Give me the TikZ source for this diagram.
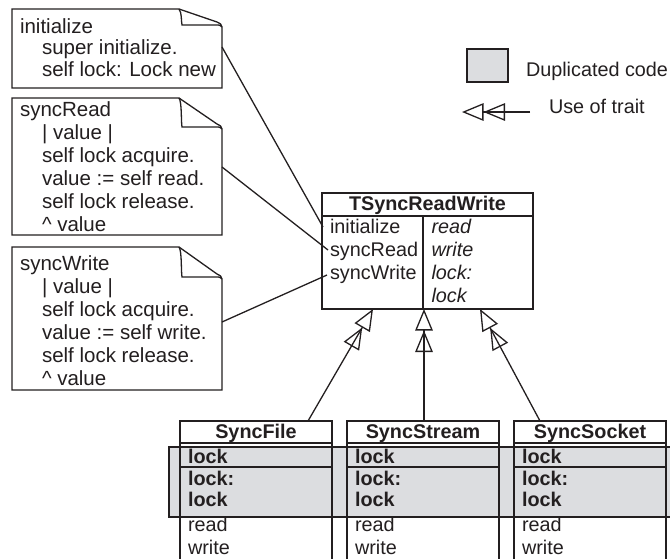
\documentclass[tikz,border=0pt]{standalone}
\usepackage{fontspec}
\setmainfont{Liberation Sans}
\usetikzlibrary{arrows.meta}
\definecolor{dupgray}{RGB}{220,221,224}
\definecolor{ink}{RGB}{35,31,32}
\newcommand\mynote[5]{%
  \draw[fill=white] (#1,#2) -- ({#3-43},#2) -- ({#3-5},{#2+#5-4})
     .. controls ({#3-1},{#2+#5-2}) .. (#3,{#2+#5+1}) -- (#3,#4) -- (#1,#4) -- cycle;
  \draw ({#3-43},#2) .. controls ({#3-40},{#2+4}) and ({#3-41},{#2+#5-6}) .. ({#3-40},{#2+#5-1})
     -- ({#3-6},{#2+#5-1}) .. controls ({#3-2},{#2+#5-1}) .. (#3,{#2+#5+1});
}
\begin{document}
\begin{tikzpicture}[x=1pt,y=-1pt,line width=1.3pt,draw=ink,
  font=\fontsize{19.8}{23}\selectfont,
  every node/.style={inner sep=0pt,outer sep=0pt,text=ink},
  ln/.style={anchor=base west},
  nt/.style={anchor=base west,font=\fontsize{20.5}{23}\selectfont},
  hd/.style={anchor=base,font=\fontsize{19.8}{23}\selectfont\bfseries},
  itl/.style={anchor=base west,font=\fontsize{19.8}{23}\selectfont\itshape},
  bdl/.style={anchor=base west,font=\fontsize{19.8}{23}\selectfont\bfseries},
  classbox/.style={draw=ink,anchor=north west,minimum width=152pt,minimum height=150pt},
  usetrait/.style={-{Triangle[open,length=21.5pt,width=17.5pt]Triangle[open,length=21.5pt,width=17.5pt]}},
  conn/.style={draw=ink}
]
\useasboundingbox (0,0) rectangle (670,558);

% ---------- notes ----------
\mynote{12}{9}{222}{88}{17}
\node[nt] (n1a) at (20,33) {initialize};
\node[nt] (n1b) at (42,54.5) {super initialize.};
\node[nt] (n1c) at (42,76.5) {self lock: Lock new};
\coordinate (n1out) at (222,47);

\mynote{12}{98}{222}{235}{30}
\node[nt] (n2a) at (20,116.5) {syncRead};
\node[nt] (n2b) at (42,139.5) {| value |};
\node[nt] (n2c) at (42,162.5) {self lock acquire.};
\node[nt] (n2d) at (42,185.5) {value := self read.};
\node[nt] (n2e) at (42,208.5) {self lock release.};
\node[nt] (n2f) at (42,231.5) {\^{} value};
\coordinate (n2out) at (222,167);

\mynote{12}{247}{222}{390}{31}
\node[nt] (n3a) at (20,270) {syncWrite};
\node[nt] (n3b) at (42,293) {| value |};
\node[nt] (n3c) at (42,316.5) {self lock acquire.};
\node[nt] (n3d) at (42,339.5) {value := self write.};
\node[nt] (n3e) at (42,362.5) {self lock release.};
\node[nt] (n3f) at (42,385.5) {\^{} value};
\coordinate (n3out) at (222,322);

% ---------- trait ----------
\node[draw=ink,anchor=north west,minimum width=211pt,minimum height=116pt] (trw) at (322,193) {};
\draw (322,216) -- (533,216);
\draw (423,216) -- (423,309);
\node[hd] (trwh) at (427.5,210) {TSyncReadWrite};
\node[ln] (m1) at (330,233.3) {initialize};
\node[ln] (m2) at (330,256) {syncRead};
\node[ln] (m3) at (330,279.3) {syncWrite};
\node[itl] (r1) at (431.5,233.3) {read};
\node[itl] (r2) at (431.5,256) {write};
\node[itl] (r3) at (431.5,279.3) {lock:};
\node[itl] (r4) at (431.5,302.7) {lock};
\coordinate (m1in) at (323,227);
\coordinate (m2in) at (328,250);
\coordinate (m3in) at (327,275);

\draw[conn] (n1out) -- (m1in);
\draw[conn] (n2out) -- (m2in);
\draw[conn] (n3out) -- (m3in);

% ---------- duplicated band ----------
\node[draw=ink,fill=dupgray,anchor=north west,minimum width=530pt,minimum height=70pt] (band) at (169,447) {};

% ---------- classes ----------
\node[classbox] (sf) at (180,421) {};
\node[classbox] (ss) at (347,421) {};
\node[classbox] (sk) at (514,421) {};
\foreach \x in {180,347,514}{
  \draw (\x,443) -- ({\x+152},443);
  \draw (\x,467) -- ({\x+152},467);
}
\node[hd] (sfh) at (256,438.3) {SyncFile};
\node[hd] (ssh) at (423,438.3) {SyncStream};
\node[hd] (skh) at (590,438.3) {SyncSocket};
\foreach \x/\nm in {188/a,355/b,522/c}{
  \node[bdl] (l1\nm) at (\x,463.3) {lock};
  \node[bdl] (l2\nm) at (\x,485) {lock:};
  \node[bdl] (l3\nm) at (\x,506.7) {lock};
  \node[ln] (l4\nm) at (\x,531.7) {read};
  \node[ln] (l5\nm) at (\x,554) {write};
}

% ---------- use of trait ----------
\coordinate (sfTop) at (308,421);
\coordinate (ssTop) at (424,421);
\coordinate (skTop) at (540,421);
\coordinate (trwA) at (373,309);
\coordinate (trwB) at (424,309);
\coordinate (trwC) at (480,309);
\draw[usetrait] (sfTop) -- (trwA);
\draw[usetrait] (ssTop) -- (trwB);
\draw[usetrait] (skTop) -- (trwC);

% ---------- legend ----------
\node[draw=ink,fill=dupgray,anchor=north west,minimum width=41pt,minimum height=33pt] (legbox) at (467,49) {};
\node[ln] (legdup) at (526,76.5) {Duplicated code};
\coordinate (legA) at (530,112);
\coordinate (legB) at (462,112);
\draw[usetrait] (legA) -- (legB);
\node[ln] (leguse) at (549,113.3) {Use of trait};
\end{tikzpicture}
\end{document}
